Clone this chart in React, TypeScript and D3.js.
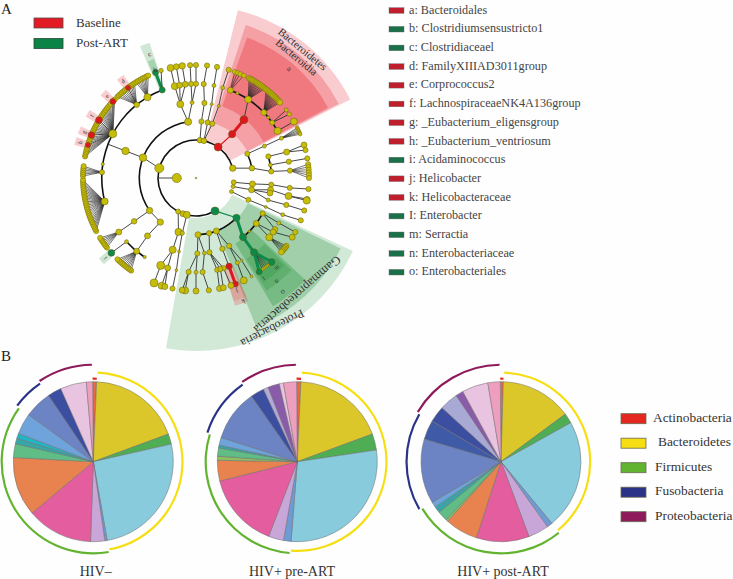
import React from "react";
import * as d3 from "d3";

const FONT = "'Liberation Serif', serif";
const YEL = "#c8bd06", RED = "#e0161e", GRN = "#0b8a4c";

// ---------- panel A: taxa ----------
const taxaLabels = ["a: Bacteroidales","b: Clostridiumsensustricto1","c: Clostridiaceael","d: FamilyXIIIAD3011group","e: Corprococcus2","f: LachnospiraceaeNK4A136group","g: _Eubacterium_eligensgroup","h: _Eubacterium_ventriosum","i: Acidaminococcus","j: Helicobacter","k: Helicobacteraceae","I: Enterobacter","m: Serractia","n: Enterobacteriaceae","o: Enterobacteriales"];
const taxaGroup = ["R","G","G","R","R","R","R","R","G","R","R","G","G","G","G"];

// [id, angle(deg clockwise from top), depth, node radius, parent, colour key]
type N = [string, number, number, number, string | null, string?];
const cladeNodes: N[] = [
  ["root",0,-1.03,0.8,null],
  ["p1",285,1,4.5,null],["xa",270,1,0,null],["x",270,0,4.6,"xa"],
  ["p2a",6,1,2.8,null],["p2b",12,1,2.8,null],["p3",35.6,1,4,null,"R"],["p4",75,1,3.2,null],
  ["p5a",96.5,1,2.5,null],["p5b",103,1,2,null],["p5c",111,1,2,null],
  ["p6",150,1,4,null,"G"],["p7a",208,1,2.5,null],["p7b",200,1,3,null],["p7c",194,1,3.5,null],
  ["c1",291,2,3.8,"p1"],["c2",352,2,3.6,null],["c3",235,2,3.2,null],["c4",219,2,3.2,"c3"],
  ["t1",348,3,3.5,"c2"],["t2",357,3,2,"c2"],
  ["u1",347,4,3.5,"t1"],["u2",350,4,3,"t1"],["u3",353.5,4,3,"t1"],["u4",357,4,2.6,"t2"],["u5",0,4,2.6,"t2"],
  ["v1",347,5,3.5,"u1"],["v2",350,5,3,"u2"],["v3",353,5,3.2,"u3"],["v4",357,5,2.6,"u4"],["v5",0,5,2.6,"u5"],
  ["w1",5.5,2,2.6,"p2a"],["w2",6.4,3,2.6,"w1"],["w3",4.7,4,2.6,"w2"],["w4",5.6,5,2.6,"w3"],
  ["w5",11.8,2,2.6,"p2b"],["w6",12,3,1.5,"w5"],["w7",11,4,2,"w6"],["w8",10.7,5,2.6,"w7"],
  ["w9",16.7,2,2.6,"p2b"],["w10",17.5,3,1.5,"w9"],["w11",16.5,4,2,"w10"],["w12",16.8,5,2.6,"w11"],
  ["b1",39.5,2,3.6,"p3","R"],["b2",39.4,3,4,"b1","R"],["b3",33.6,4,3.5,"b2"],["b4",46,4,3,null],["b5",50,4,1.5,null],["b6",54,4,2.6,null],["b7",60,4,3.6,null],["b8",21.4,4,3,null],["b9",26,4,1.5,null],
  ["b10",53,5,2,"b6"],["b11",55.6,5,2.2,"b6"],["b12",60,5,3.5,"b7"],
  ["r1",64.8,2,2.6,null],["r2",80,2,2.8,"p4"],["r3",65,3,2,"r1"],["r4",73.4,3,2.6,null],["r5",80,3,2,null],["r6",85,3,2.6,"r2"],
  ["r7",65,4,2,"r3"],["r8",74,4,3,"r4"],["r9",80,4,2.6,"r5"],["r10",85.5,4,2.6,"r6"],
  ["r11",73,5,3,"r8"],["r12",75.7,5,2.6,"r8"],["r13",80,5,2.6,"r9"],
  ["s1",96,2,3,"p5a"],["s2",102,2,3,"p5b"],["s3",112.6,2,2.5,"p5c"],
  ["s4",95,3,2.5,"s1"],["s5",99,3,3,"s2"],["s6",101.5,3,3,"s2"],["s7",107,3,2,"s2"],["s8",112.5,3,1.5,"s3"],
  ["s9",96,4,2.6,"s4"],["s10",101,4,3.5,"s5"],["s11",106.6,4,2.6,"s7"],["s12",113,4,2,"s8"],
  ["s13",95.6,5,2.6,"s9"],["s14",100.7,5,2.6,"s10"],["s15",101.5,5,3.6,"s10"],["s16",106.7,5,2.6,"s11"],["s17",112,5,2.6,"s12"],
  ["e1",134.5,2,3.6,"p6","G"],["e2",159,2,3,null],["e3",166.6,2,2.6,null],["e4",178,2,3,null],
  ["e5",141.5,3,3.6,"e1","G"],["e6",118,3,2.6,null],["e7",127,3,3,null],["e6b",135,3,1.3,null],
  ["e8",142,4,3.6,"e5","G"],["e9",138,5,3.4,"e8","G"],["e10",146,5,3,"e8","G"],
  ["e11",118.5,4,2,"e6"],["e11b",123,4,2.8,"e6"],["e12",125,4,3,"e7"],["e13",129,4,3.5,"e7"],
  ["e14",118.6,5,2.6,"e11"],["e15",121.6,5,3,"e12"],
  ["f1",154,3,2.6,"e2"],["f2",154,4,2,"f1"],["f3",155,5,3.5,"f2"],["f4",151,4,1.3,"f1"],["f5",150.6,5,1.5,"f4"],
  ["f6",159.6,3,2.6,"e2"],["f7",159.5,4,3.2,"f6","R"],["f8",159.6,5,3,"f7","R"],
  ["f9",169.7,3,2.6,"e3"],["f10",167,4,2.6,"f9"],["f11",168,5,3,"f10"],["f12",163,4,2.6,"f9"],["f13",162,5,3,"f12"],["f14",165,4,2.6,"f9"],["f15",166,5,3,"f14"],
  ["h1",179,3,2.6,"e4"],["h2",173.6,3,2,"e4"],["h3",184.5,4,2.6,"h1"],["h4",180,4,2,"h1"],["h5",176,4,2.6,"h2"],
  ["h6",185.5,5,3.5,"h3"],["h7",187,5,3,"h3"],["h8",180,5,3,"h4"],["h9",173.5,5,2.6,"h5"],
  ["k1",198,2,3.6,"p7a"],["k2",198,3,3.6,"k1"],["k3",202,4,4,"k2"],["k4",201.8,5,4,"k3"],["k5",197.5,4,3,"k2"],["k6",197.7,5,3.5,"k5"],["k7",196,5,3,"k5"],
  ["k8",194,2,2.2,"p7c"],["k9",193,3,1.4,"k8"],["k10",192,4,1.4,"k9"],["k11",192,5,2.6,"k10"],
  ["m1",235,3,2.8,"c3"],["m2",235,4,3,"m1"],
  ["m3",220,3,3,"c4"],["m4",219,4,3,"m3"],["m5",213,4,1.6,null],["m6",227.5,4,2,null],["m7",228.5,5,3.4,"m6","G"],
  ["q0",291,3,3.7,"c1"],["qa",291,4,0,"q0"],
  ["l1",298,4,4,null],["l2",255.6,4,3.5,null],["l3",273.5,4,2.6,null],["l4",278.5,4,1.6,null],["l5",321,4,2.8,null],["l6",329,4,3.6,null],
  ["l7",339,4,3,null,"G"],["l8",339,5,3,"l7","G"],["l9",342,5,2.2,"l7"],
  ["h",287,5,2.6,"l1","R"],["g",292.3,5,3.4,"l1","R"],["f",300.8,5,3.4,"l1","R"],["e",312.6,5,3,"l1","R"],["d",323,5,2.6,"l5","R"],
];

// leaf fans: all leaves at the outermost depth
const fanL2 = [242,243,244,245,246,247,248,249,250,251,252,253,254,255,256,257,258,259,260,261,262,263,264,265,266,267,268,269];
const fanL3 = [271,272,273,274,275,276];
const fanL1 = [281,282,283,284,285,286,288,289,290,291,293,294,295,296,297,298,299,300,302,303,304,305,306,307,308,309,310,311,313,314];
const fanL5 = [316,317,318,319,320,321,322,324,325,326,327];
const fanL6 = [328,329,330,331,332,333,334,335];
const fanB3 = [28,28.8,29.6,30.4,31.2,32,32.8,33.6,34.4,35.2,36,36.8,37.6];
const fanB4 = [38.4,39.2,40,40.8,41.6,42.4,43.2,44,44.8,45.6,46.4,47.2,48];
const fanB8 = [20,21.5,23,25];
const fanR7 = [63.5,64.2,65,65.8,66.5,67.2];
const fanR10 = [83,84.4,85.8,87.2,88.6,90];
const fanE8 = [140,141,142,143,144];
const fanE13 = [127,127.8,128.6,129.4,130.2,131];
const fanM2 = [232,233,234,235,236,237,238];
const fanM4 = [215,216,217,218,219,220,221,222,223,224];
const fans: [string, number[], number][] = [["l2",fanL2,2.6],["l3",fanL3,2.6],["l1",fanL1,2.6],["l5",fanL5,2.6],["l6",fanL6,2.6],["b3",fanB3,2.8],["b4",fanB4,2.8],["b8",fanB8,2.4],["r7",fanR7,1.8],["r10",fanR10,2.6],["e8",fanE8,1.4],["e13",fanE13,2.8],["m2",fanM2,2.6],["m4",fanM4,2.6]];

// thick ring segments [depth, from, to]
const rings: [number, number, number][] = [[1,151,435],[2,234,352],[4,255,339],[2,65,80],[3,73,85],[2,134,178],[3,118,141.5],[4,21,60],[4,213,227.5]];

// highlight wedges [depthIn, depthOut, from, to, key, opacity]
const wedges: [number, number, number, number, string, number][] = [
  [1.05,8.2,14,63,"R",0.22],[2.05,7.55,18,62.5,"R",0.26],[3.05,6.95,20,62,"R",0.3],
  [1.1,8.2,115,190,"G",0.2],[2.05,7.55,116,158,"G",0.3],[3.05,6.95,133,149,"G",0.35],[4.05,6.05,134,148,"G",0.3],[5,5.6,135,141,"G",0.3],[5,5.6,141,147,"G",0.3],
  [4,6.1,157,163,"R",0.22],[5,5.85,157,163,"R",0.14],
  [5,6.6,337,341,"G",0.22],[4,5.7,337.5,340.5,"G",0.25],
  [5,5.7,285.2,288.8,"R",0.22],[5,5.7,290.5,294.1,"R",0.22],[5,5.7,299,302.6,"R",0.22],[5,5.7,310.8,314.4,"R",0.22],[5,5.7,321.2,324.8,"R",0.22],[5,5.7,226.8,230.4,"G",0.22],
];
// wedge labels [text, angle, depth, font size]
const wedgeLabels: [string, number, number, number][] = [
  ["Bacteroidetes",39.6,7.83,11],["Bacteroidia",39.8,7.3,11],["a",40.5,6.6,8],
  ["Gammaproteobacteria",139,7.15,12.5],["Proteobacteria",153,7.9,12],
  ["o",142.6,6.6,8],["n",142,5.95,7],["m",138,5.4,6],["l",146,5.4,6],["k",159,6,7],["j",160,5.35,7],
  ["c",339.4,6,7],["b",339.4,5.1,7],["d",323,5.4,6],["e",312.6,5.4,6],["f",300.8,5.4,6],["g",292.3,5.4,6],["h",287,5.4,6],["i",228.6,5.4,6],
];

// ---------- panel B: phylum pies ----------
const pieTitles = ["HIV\u2013","HIV+ pre-ART","HIV+ post-ART"];
const pie1Colors = ["#e8683f","#dcc72a","#4fae54","#88cbdc","#6f9bd4","#c9a6d8","#e45e9f","#e8834f","#5fbd85","#39a6a6","#22b5c6","#6ea3dc","#6c84c4","#3c4ea0","#e9c4e0","#ee9fbf"];
const pie1Values = [2.9,67.4,7.5,92.7,1.7,10.3,48,43,10,4,3.7,15.3,20,10,19,4.5];
const pie1Phyla = ["A","B","B","B","F","F","F","F","F","F","F","F","U","P","P","P"];
const pie2Colors = ["#e8683f","#dcc72a","#4fae54","#88cbdc","#6f9bd4","#c9a6d8","#e45e9f","#e8834f","#8cc063","#5fbd85","#39a6a6","#6ea3dc","#6c84c4","#3c4ea0","#b3aad8","#8a5ba8","#e9c4e0","#ee9fbf"];
const pie2Values = [3.1,67.2,11.8,102.9,5.5,11,55,15,3,6,2,5.6,37.4,10,3.6,8.4,3,9.5];
const pie2Phyla = ["A","B","B","B","F","F","F","F","F","F","F","F","U","P","P","P","P","P"];
const pie3Colors = ["#e8683f","#dcc72a","#4fae54","#88cbdc","#6f9bd4","#c9a6d8","#e45e9f","#e8834f","#8cc063","#5fbd85","#39a6a6","#22b5c6","#6ea3dc","#6c84c4","#3f5ba8","#3c4ea0","#a9a9d5","#8a5ba8","#e9c4e0","#ee9fbf"];
const pie3Values = [2.2,51.8,7.3,79.7,4,15,38.4,24,1.6,7.3,3.2,1.5,4,47,14,12,13.4,5.6,19,9];
const pie3Phyla = ["A","B","B","B","F","F","F","F","F","F","F","F","F","U","U","P","P","P","P","P"];
const phylumNames = ["Actinobacteria","Bacteroidetes","Firmicutes","Fusobacteria","Proteobacteria"];
const phylumKeys = ["A","B","F","U","P"];
const phylumColors = ["#e4281f","#f6de12","#62b32f","#2b3388","#8e1a5b"];
const ringOffset: Record<string, number> = { A: 0, B: 7.5, F: 10.5, U: 14, P: 17 };

const rad = (deg: number) => (deg * Math.PI) / 180;
const rScale = d3.scaleLinear().domain([1, 5]).range([38, 113]);

function Clade() {
  const byId = new Map(cladeNodes.map((n) => [n[0], n]));
  const pos = (a: number, depth: number) => d3.pointRadial(rad(a), rScale(depth));
  const col = (k?: string) => (k === "R" ? RED : k === "G" ? GRN : YEL);
  const arc = d3.arc<any>();
  const edges: React.ReactNode[] = [];
  cladeNodes.forEach((n) => {
    if (!n[4]) return;
    const p = byId.get(n[4])!;
    const [x1, y1] = pos(n[1], n[2]);
    const [x2, y2] = pos(p[1], p[2]);
    const bold = n[5] && p[5] && n[5] === p[5];
    const w = !bold ? 0.9 : n[0] === "b1" || n[0] === "e1" ? 1.2 : 3;
    edges.push(<line key={n[0]} x1={x1} y1={y1} x2={x2} y2={y2} stroke={bold ? col(n[5]) : "#333"} strokeWidth={w} />);
  });
  const fanLines: React.ReactNode[] = [];
  const fanDots: React.ReactNode[] = [];
  fans.forEach(([pid, angles, size]) => {
    const p = byId.get(pid)!;
    const [x2, y2] = pos(p[1], p[2]);
    angles.forEach((a) => {
      const [x1, y1] = pos(a, 5);
      fanLines.push(<line key={pid + a} x1={x1} y1={y1} x2={x2} y2={y2} stroke="#222" strokeWidth={0.6} />);
      fanDots.push(<circle key={pid + a} cx={x1} cy={y1} r={size} fill={YEL} stroke="#6e6a10" strokeWidth={0.5} />);
    });
  });
  return (
    <g transform="translate(196,178)">
      {wedges.map(([d0, d1, a0, a1, k, op], i) => (
        <path key={i} d={arc({ innerRadius: rScale(d0), outerRadius: rScale(d1), startAngle: rad(a0), endAngle: rad(a1) })!} fill={k === "R" ? "#e8202c" : "#2a9440"} opacity={op} />
      ))}
      {rings.map(([d, a0, a1], i) => (
        <path key={i} d={arc({ innerRadius: rScale(d) - 0.8, outerRadius: rScale(d) + 0.8, startAngle: rad(a0), endAngle: rad(a1) })!} fill="#111" />
      ))}
      {fanLines}
      {edges}
      {fanDots}
      {cladeNodes.filter((n) => n[3] > 0).map((n) => {
        const [x, y] = pos(n[1], n[2]);
        return <circle key={n[0]} cx={x} cy={y} r={n[3]} fill={col(n[5])} stroke="#5e5c10" strokeWidth={0.5} />;
      })}
      {wedgeLabels.map(([t, a, d, fs]) => {
        const [x, y] = pos(a, d);
        return <text key={t} transform={`translate(${x},${y}) rotate(${a})`} textAnchor="middle" dominantBaseline="middle" fontSize={fs} fill="#333">{t}</text>;
      })}
    </g>
  );
}

function Pie({ cx, values, colors, phyla }: { cx: number; values: number[]; colors: string[]; phyla: string[] }) {
  const arcs = d3.pie<number>().sort(null).startAngle(rad(-0.5)).endAngle(rad(359.5))(values);
  const arc = d3.arc<any>().innerRadius(0).outerRadius(80);
  const ring = d3.arc<any>();
  return (
    <g transform={`translate(${cx},461.7)`}>
      {arcs.map((a, i) => (
        <path key={i} d={arc(a)!} fill={colors[i]} stroke="#6d6d6d" strokeWidth={0.5} />
      ))}
      {phylumKeys.map((k, pi) => {
        const idx = phyla.map((p, i) => (p === k ? i : -1)).filter((i) => i >= 0);
        const a0 = arcs[idx[0]].startAngle;
        const a1 = arcs[idx[idx.length - 1]].endAngle;
        const r = 83 + ringOffset[k] * 0.82;
        const gap = k === "A" ? 0 : 0.006;
        return (
          <path key={k} d={ring({ innerRadius: r - 1.1, outerRadius: r + 1.1, startAngle: a0 + gap, endAngle: a1 - gap })!} fill={phylumColors[pi]} />
        );
      })}
    </g>
  );
}

export default function App() {
  const taxaY = d3.scaleLinear().domain([0, taxaLabels.length - 1]).range([10.3, 272]);
  const legY = d3.scaleLinear().domain([0, 4]).range([418.7, 516.7]);
  const legX = [653, 658, 655, 655, 655];
  return (
    <svg width={733} height={579} style={{ position: "absolute", left: 0, top: 0, fontFamily: FONT }}>
      <rect width={733} height={579} fill="#fefefe" />
      <text x={1} y={14} fontSize={15} fill="#222">A</text>
      <text x={1} y={361} fontSize={15} fill="#222">B</text>
      <rect x={34} y={18} width={29} height={10} fill="#e11a24" stroke="#5a4a4a" strokeWidth={0.8} />
      <rect x={34} y={38.5} width={29} height={10} fill="#0a8446" stroke="#2a4a3a" strokeWidth={0.8} />
      <text x={76} y={27} fontSize={13} fill="#333">Baseline</text>
      <text x={76} y={47} fontSize={13} fill="#333">Post-ART</text>
      <Clade />
      {taxaLabels.map((t, i) => (
        <g key={t}>
          <rect x={389} y={taxaY(i) - 2.6} width={15} height={5.6} fill={taxaGroup[i] === "R" ? "#c01e2c" : "#1a7048"} stroke="#666" strokeWidth={0.4} />
          <text x={409} y={taxaY(i) + 3.4} fontSize={12.2} fill="#444">{t}</text>
        </g>
      ))}
      <Pie cx={93.3} values={pie1Values} colors={pie1Colors} phyla={pie1Phyla} />
      <Pie cx={297.3} values={pie2Values} colors={pie2Colors} phyla={pie2Phyla} />
      <Pie cx={501} values={pie3Values} colors={pie3Colors} phyla={pie3Phyla} />
      {pieTitles.map((t, i) => (
        <text key={t} x={[95.7, 292, 503][i]} y={576} textAnchor="middle" fontSize={14} fill="#333">{t}</text>
      ))}
      {phylumNames.map((t, i) => (
        <g key={t}>
          <rect x={621} y={legY(i) - 5} width={25} height={10} fill={phylumColors[i]} stroke="#6a6a50" strokeWidth={0.8} />
          <text x={legX[i]} y={legY(i) + 3} fontSize={13.4} fill="#333">{t}</text>
        </g>
      ))}
    </svg>
  );
}
